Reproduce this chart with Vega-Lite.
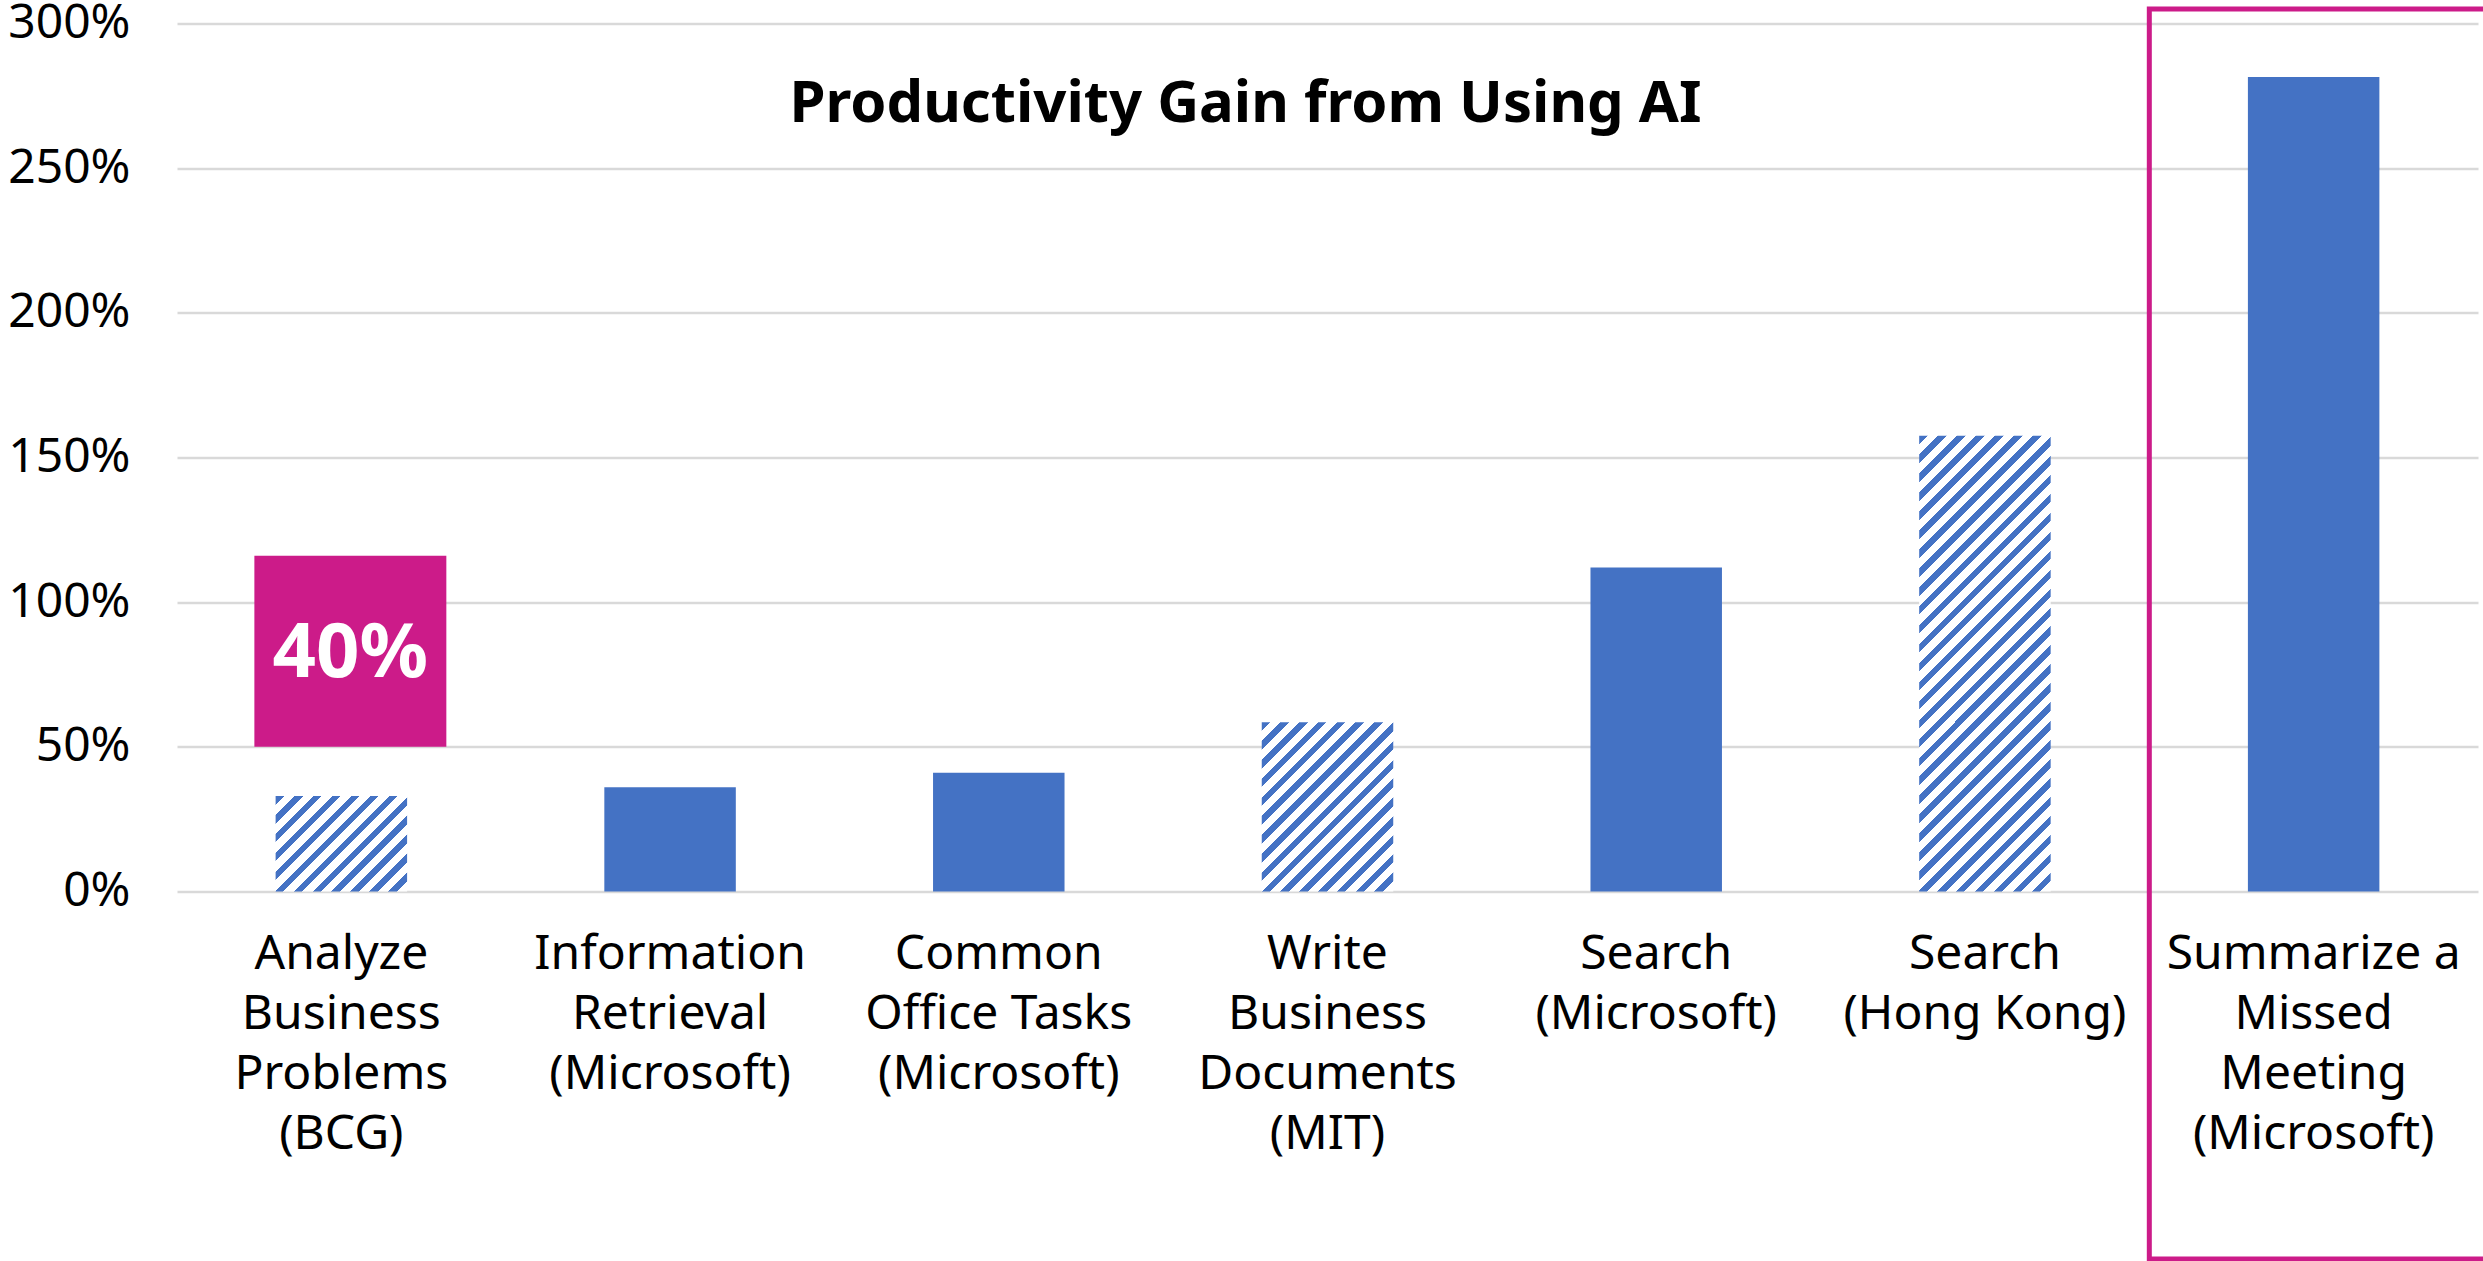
{
  "$schema": "https://vega.github.io/schema/vega-lite/v6.json",
  "width": 2301,
  "height": 868,
  "autosize": {"type": "none"},
  "padding": {"left": 177, "top": 23.5, "right": 5, "bottom": 369.5},
  "background": "white",
  "config": {"view": {"stroke": null}, "font": "Noto Sans"},
  "title": {
    "text": "Productivity Gain from Using AI",
    "fontSize": 58, "fontWeight": "bold", "font": "Noto Sans", "color": "#000000",
    "anchor": "middle", "frame": "group", "orient": "top", "offset": 0,
    "baseline": "alphabetic", "dx": -82, "dy": 180
  },
  "datasets": {
    "gains": [
      {"task": "Analyze|Business|Problems|(BCG)", "gain": 33, "style": "hatched"},
      {"task": "Information|Retrieval|(Microsoft)", "gain": 36, "style": "solid"},
      {"task": "Common|Office Tasks|(Microsoft)", "gain": 41, "style": "solid"},
      {"task": "Write|Business|Documents|(MIT)", "gain": 58.5, "style": "hatched"},
      {"task": "Search|(Microsoft)", "gain": 112, "style": "solid"},
      {"task": "Search|(Hong Kong)", "gain": 157.5, "style": "hatched"},
      {"task": "Summarize a|Missed|Meeting|(Microsoft)", "gain": 281.5, "style": "solid"}
    ],
    "callout": [
      {"task": "Analyze|Business|Problems|(BCG)", "gain": 50, "gainTop": 116, "mid": 82, "label": "40%"}
    ],
    "highlight": [
      {"task": "Summarize a|Missed|Meeting|(Microsoft)", "gain": 305, "gainEnd": -127}
    ]
  },
  "encoding": {
    "x": {
      "field": "task", "type": "nominal",
      "sort": ["Analyze|Business|Problems|(BCG)", "Information|Retrieval|(Microsoft)", "Common|Office Tasks|(Microsoft)", "Write|Business|Documents|(MIT)", "Search|(Microsoft)", "Search|(Hong Kong)", "Summarize a|Missed|Meeting|(Microsoft)"],
      "scale": {"paddingInner": 0.6, "paddingOuter": 0.3},
      "axis": {
        "title": null, "labelAngle": 0, "labelExpr": "split(datum.value, '|')",
        "labelFontSize": 48, "labelLineHeight": 60, "labelColor": "#000000", "labelFont": "Noto Sans",
        "labelPadding": 39, "labelBaseline": "top", "labelLimit": 0, "labelOverlap": false, "labelBound": false,
        "ticks": false, "domain": false
      }
    }
  },
  "layer": [
    {
      "data": {"name": "gains"},
      "transform": [{"filter": "datum.style == 'solid'"}],
      "mark": {"type": "bar", "color": "#4472C4"},
      "encoding": {
        "y": {
          "field": "gain", "type": "quantitative",
          "scale": {"domain": [0, 300], "nice": false},
          "axis": {
            "title": null, "values": [0, 50, 100, 150, 200, 250, 300], "labelExpr": "datum.value + '%'",
            "grid": true, "gridColor": "#d9d9d9", "gridWidth": 2.5, "domain": false, "ticks": false,
            "labelFontSize": 48, "labelPadding": 47, "labelColor": "#000000", "labelFont": "Noto Sans"
          }
        }
      }
    },
    {
      "data": {"name": "gains"},
      "transform": [{"filter": "datum.task == 'Analyze|Business|Problems|(BCG)'"}],
      "mark": {
        "type": "bar",
        "fill": {
          "gradient": "linear", "x1": 0, "y1": 0, "x2": 1.13021, "y2": 0.82069,
          "stops": [
            {"offset": 0, "color": "#4472C4"}, {"offset": 0.0375, "color": "#4472C4"}, {"offset": 0.0375, "color": "#ffffff"}, {"offset": 0.0833, "color": "#ffffff"},
            {"offset": 0.0833, "color": "#4472C4"}, {"offset": 0.1208, "color": "#4472C4"}, {"offset": 0.1208, "color": "#ffffff"}, {"offset": 0.1667, "color": "#ffffff"},
            {"offset": 0.1667, "color": "#4472C4"}, {"offset": 0.2042, "color": "#4472C4"}, {"offset": 0.2042, "color": "#ffffff"}, {"offset": 0.25, "color": "#ffffff"},
            {"offset": 0.25, "color": "#4472C4"}, {"offset": 0.2875, "color": "#4472C4"}, {"offset": 0.2875, "color": "#ffffff"}, {"offset": 0.3333, "color": "#ffffff"},
            {"offset": 0.3333, "color": "#4472C4"}, {"offset": 0.3708, "color": "#4472C4"}, {"offset": 0.3708, "color": "#ffffff"}, {"offset": 0.4167, "color": "#ffffff"},
            {"offset": 0.4167, "color": "#4472C4"}, {"offset": 0.4542, "color": "#4472C4"}, {"offset": 0.4542, "color": "#ffffff"}, {"offset": 0.5, "color": "#ffffff"},
            {"offset": 0.5, "color": "#4472C4"}, {"offset": 0.5375, "color": "#4472C4"}, {"offset": 0.5375, "color": "#ffffff"}, {"offset": 0.5833, "color": "#ffffff"},
            {"offset": 0.5833, "color": "#4472C4"}, {"offset": 0.6208, "color": "#4472C4"}, {"offset": 0.6208, "color": "#ffffff"}, {"offset": 0.6667, "color": "#ffffff"},
            {"offset": 0.6667, "color": "#4472C4"}, {"offset": 0.7042, "color": "#4472C4"}, {"offset": 0.7042, "color": "#ffffff"}, {"offset": 0.75, "color": "#ffffff"},
            {"offset": 0.75, "color": "#4472C4"}, {"offset": 0.7875, "color": "#4472C4"}, {"offset": 0.7875, "color": "#ffffff"}, {"offset": 0.8333, "color": "#ffffff"},
            {"offset": 0.8333, "color": "#4472C4"}, {"offset": 0.8708, "color": "#4472C4"}, {"offset": 0.8708, "color": "#ffffff"}, {"offset": 0.9167, "color": "#ffffff"},
            {"offset": 0.9167, "color": "#4472C4"}, {"offset": 0.9542, "color": "#4472C4"}, {"offset": 0.9542, "color": "#ffffff"}, {"offset": 1, "color": "#ffffff"}
          ]
        }
      },
      "encoding": {
        "y": {"field": "gain", "type": "quantitative", "scale": {"domain": [0, 300], "nice": false}, "axis": {"title": null}}
      }
    },
    {
      "data": {"name": "gains"},
      "transform": [{"filter": "datum.task == 'Write|Business|Documents|(MIT)'"}],
      "mark": {
        "type": "bar",
        "fill": {
          "gradient": "linear", "x1": 0, "y1": 0, "x2": 0.86083, "y2": 1.10812,
          "stops": [
            {"offset": 0, "color": "#4472C4"}, {"offset": 0.0281, "color": "#4472C4"}, {"offset": 0.0281, "color": "#ffffff"}, {"offset": 0.0625, "color": "#ffffff"},
            {"offset": 0.0625, "color": "#4472C4"}, {"offset": 0.0906, "color": "#4472C4"}, {"offset": 0.0906, "color": "#ffffff"}, {"offset": 0.125, "color": "#ffffff"},
            {"offset": 0.125, "color": "#4472C4"}, {"offset": 0.1531, "color": "#4472C4"}, {"offset": 0.1531, "color": "#ffffff"}, {"offset": 0.1875, "color": "#ffffff"},
            {"offset": 0.1875, "color": "#4472C4"}, {"offset": 0.2156, "color": "#4472C4"}, {"offset": 0.2156, "color": "#ffffff"}, {"offset": 0.25, "color": "#ffffff"},
            {"offset": 0.25, "color": "#4472C4"}, {"offset": 0.2781, "color": "#4472C4"}, {"offset": 0.2781, "color": "#ffffff"}, {"offset": 0.3125, "color": "#ffffff"},
            {"offset": 0.3125, "color": "#4472C4"}, {"offset": 0.3406, "color": "#4472C4"}, {"offset": 0.3406, "color": "#ffffff"}, {"offset": 0.375, "color": "#ffffff"},
            {"offset": 0.375, "color": "#4472C4"}, {"offset": 0.4031, "color": "#4472C4"}, {"offset": 0.4031, "color": "#ffffff"}, {"offset": 0.4375, "color": "#ffffff"},
            {"offset": 0.4375, "color": "#4472C4"}, {"offset": 0.4656, "color": "#4472C4"}, {"offset": 0.4656, "color": "#ffffff"}, {"offset": 0.5, "color": "#ffffff"},
            {"offset": 0.5, "color": "#4472C4"}, {"offset": 0.5281, "color": "#4472C4"}, {"offset": 0.5281, "color": "#ffffff"}, {"offset": 0.5625, "color": "#ffffff"},
            {"offset": 0.5625, "color": "#4472C4"}, {"offset": 0.5906, "color": "#4472C4"}, {"offset": 0.5906, "color": "#ffffff"}, {"offset": 0.625, "color": "#ffffff"},
            {"offset": 0.625, "color": "#4472C4"}, {"offset": 0.6531, "color": "#4472C4"}, {"offset": 0.6531, "color": "#ffffff"}, {"offset": 0.6875, "color": "#ffffff"},
            {"offset": 0.6875, "color": "#4472C4"}, {"offset": 0.7156, "color": "#4472C4"}, {"offset": 0.7156, "color": "#ffffff"}, {"offset": 0.75, "color": "#ffffff"},
            {"offset": 0.75, "color": "#4472C4"}, {"offset": 0.7781, "color": "#4472C4"}, {"offset": 0.7781, "color": "#ffffff"}, {"offset": 0.8125, "color": "#ffffff"},
            {"offset": 0.8125, "color": "#4472C4"}, {"offset": 0.8406, "color": "#4472C4"}, {"offset": 0.8406, "color": "#ffffff"}, {"offset": 0.875, "color": "#ffffff"},
            {"offset": 0.875, "color": "#4472C4"}, {"offset": 0.9031, "color": "#4472C4"}, {"offset": 0.9031, "color": "#ffffff"}, {"offset": 0.9375, "color": "#ffffff"},
            {"offset": 0.9375, "color": "#4472C4"}, {"offset": 0.9656, "color": "#4472C4"}, {"offset": 0.9656, "color": "#ffffff"}, {"offset": 1, "color": "#ffffff"}
          ]
        }
      },
      "encoding": {
        "y": {"field": "gain", "type": "quantitative", "scale": {"domain": [0, 300], "nice": false}, "axis": {"title": null}}
      }
    },
    {
      "data": {"name": "gains"},
      "transform": [{"filter": "datum.task == 'Search|(Hong Kong)'"}],
      "mark": {
        "type": "bar",
        "fill": {
          "gradient": "linear", "x1": 0, "y1": 0, "x2": 0.34323, "y2": 1.18951,
          "stops": [
            {"offset": 0, "color": "#4472C4"}, {"offset": 0.0145, "color": "#4472C4"}, {"offset": 0.0145, "color": "#ffffff"}, {"offset": 0.0323, "color": "#ffffff"},
            {"offset": 0.0323, "color": "#4472C4"}, {"offset": 0.0468, "color": "#4472C4"}, {"offset": 0.0468, "color": "#ffffff"}, {"offset": 0.0645, "color": "#ffffff"},
            {"offset": 0.0645, "color": "#4472C4"}, {"offset": 0.079, "color": "#4472C4"}, {"offset": 0.079, "color": "#ffffff"}, {"offset": 0.0968, "color": "#ffffff"},
            {"offset": 0.0968, "color": "#4472C4"}, {"offset": 0.1113, "color": "#4472C4"}, {"offset": 0.1113, "color": "#ffffff"}, {"offset": 0.129, "color": "#ffffff"},
            {"offset": 0.129, "color": "#4472C4"}, {"offset": 0.1435, "color": "#4472C4"}, {"offset": 0.1435, "color": "#ffffff"}, {"offset": 0.1613, "color": "#ffffff"},
            {"offset": 0.1613, "color": "#4472C4"}, {"offset": 0.1758, "color": "#4472C4"}, {"offset": 0.1758, "color": "#ffffff"}, {"offset": 0.1935, "color": "#ffffff"},
            {"offset": 0.1935, "color": "#4472C4"}, {"offset": 0.2081, "color": "#4472C4"}, {"offset": 0.2081, "color": "#ffffff"}, {"offset": 0.2258, "color": "#ffffff"},
            {"offset": 0.2258, "color": "#4472C4"}, {"offset": 0.2403, "color": "#4472C4"}, {"offset": 0.2403, "color": "#ffffff"}, {"offset": 0.2581, "color": "#ffffff"},
            {"offset": 0.2581, "color": "#4472C4"}, {"offset": 0.2726, "color": "#4472C4"}, {"offset": 0.2726, "color": "#ffffff"}, {"offset": 0.2903, "color": "#ffffff"},
            {"offset": 0.2903, "color": "#4472C4"}, {"offset": 0.3048, "color": "#4472C4"}, {"offset": 0.3048, "color": "#ffffff"}, {"offset": 0.3226, "color": "#ffffff"},
            {"offset": 0.3226, "color": "#4472C4"}, {"offset": 0.3371, "color": "#4472C4"}, {"offset": 0.3371, "color": "#ffffff"}, {"offset": 0.3548, "color": "#ffffff"},
            {"offset": 0.3548, "color": "#4472C4"}, {"offset": 0.3694, "color": "#4472C4"}, {"offset": 0.3694, "color": "#ffffff"}, {"offset": 0.3871, "color": "#ffffff"},
            {"offset": 0.3871, "color": "#4472C4"}, {"offset": 0.4016, "color": "#4472C4"}, {"offset": 0.4016, "color": "#ffffff"}, {"offset": 0.4194, "color": "#ffffff"},
            {"offset": 0.4194, "color": "#4472C4"}, {"offset": 0.4339, "color": "#4472C4"}, {"offset": 0.4339, "color": "#ffffff"}, {"offset": 0.4516, "color": "#ffffff"},
            {"offset": 0.4516, "color": "#4472C4"}, {"offset": 0.4661, "color": "#4472C4"}, {"offset": 0.4661, "color": "#ffffff"}, {"offset": 0.4839, "color": "#ffffff"},
            {"offset": 0.4839, "color": "#4472C4"}, {"offset": 0.4984, "color": "#4472C4"}, {"offset": 0.4984, "color": "#ffffff"}, {"offset": 0.5161, "color": "#ffffff"},
            {"offset": 0.5161, "color": "#4472C4"}, {"offset": 0.5306, "color": "#4472C4"}, {"offset": 0.5306, "color": "#ffffff"}, {"offset": 0.5484, "color": "#ffffff"},
            {"offset": 0.5484, "color": "#4472C4"}, {"offset": 0.5629, "color": "#4472C4"}, {"offset": 0.5629, "color": "#ffffff"}, {"offset": 0.5806, "color": "#ffffff"},
            {"offset": 0.5806, "color": "#4472C4"}, {"offset": 0.5952, "color": "#4472C4"}, {"offset": 0.5952, "color": "#ffffff"}, {"offset": 0.6129, "color": "#ffffff"},
            {"offset": 0.6129, "color": "#4472C4"}, {"offset": 0.6274, "color": "#4472C4"}, {"offset": 0.6274, "color": "#ffffff"}, {"offset": 0.6452, "color": "#ffffff"},
            {"offset": 0.6452, "color": "#4472C4"}, {"offset": 0.6597, "color": "#4472C4"}, {"offset": 0.6597, "color": "#ffffff"}, {"offset": 0.6774, "color": "#ffffff"},
            {"offset": 0.6774, "color": "#4472C4"}, {"offset": 0.6919, "color": "#4472C4"}, {"offset": 0.6919, "color": "#ffffff"}, {"offset": 0.7097, "color": "#ffffff"},
            {"offset": 0.7097, "color": "#4472C4"}, {"offset": 0.7242, "color": "#4472C4"}, {"offset": 0.7242, "color": "#ffffff"}, {"offset": 0.7419, "color": "#ffffff"},
            {"offset": 0.7419, "color": "#4472C4"}, {"offset": 0.7565, "color": "#4472C4"}, {"offset": 0.7565, "color": "#ffffff"}, {"offset": 0.7742, "color": "#ffffff"},
            {"offset": 0.7742, "color": "#4472C4"}, {"offset": 0.7887, "color": "#4472C4"}, {"offset": 0.7887, "color": "#ffffff"}, {"offset": 0.8065, "color": "#ffffff"},
            {"offset": 0.8065, "color": "#4472C4"}, {"offset": 0.821, "color": "#4472C4"}, {"offset": 0.821, "color": "#ffffff"}, {"offset": 0.8387, "color": "#ffffff"},
            {"offset": 0.8387, "color": "#4472C4"}, {"offset": 0.8532, "color": "#4472C4"}, {"offset": 0.8532, "color": "#ffffff"}, {"offset": 0.871, "color": "#ffffff"},
            {"offset": 0.871, "color": "#4472C4"}, {"offset": 0.8855, "color": "#4472C4"}, {"offset": 0.8855, "color": "#ffffff"}, {"offset": 0.9032, "color": "#ffffff"},
            {"offset": 0.9032, "color": "#4472C4"}, {"offset": 0.9177, "color": "#4472C4"}, {"offset": 0.9177, "color": "#ffffff"}, {"offset": 0.9355, "color": "#ffffff"},
            {"offset": 0.9355, "color": "#4472C4"}, {"offset": 0.95, "color": "#4472C4"}, {"offset": 0.95, "color": "#ffffff"}, {"offset": 0.9677, "color": "#ffffff"},
            {"offset": 0.9677, "color": "#4472C4"}, {"offset": 0.9823, "color": "#4472C4"}, {"offset": 0.9823, "color": "#ffffff"}, {"offset": 1, "color": "#ffffff"}
          ]
        }
      },
      "encoding": {
        "y": {"field": "gain", "type": "quantitative", "scale": {"domain": [0, 300], "nice": false}, "axis": {"title": null}}
      }
    },
    {
      "data": {"name": "callout"},
      "mark": {"type": "bar", "color": "#CC1B89", "width": {"band": 1.46}, "xOffset": 9},
      "encoding": {
        "y": {"field": "gain", "type": "quantitative", "scale": {"domain": [0, 300], "nice": false}, "axis": {"title": null}},
        "y2": {"field": "gainTop"}
      }
    },
    {
      "data": {"name": "callout"},
      "mark": {"type": "text", "color": "#ffffff", "fontSize": 76, "fontWeight": "bold", "font": "Noto Sans", "align": "center", "baseline": "middle", "xOffset": 9},
      "encoding": {
        "y": {"field": "mid", "type": "quantitative", "scale": {"domain": [0, 300], "nice": false}, "axis": {"title": null}},
        "text": {"field": "label", "type": "nominal"}
      }
    },
    {
      "data": {"name": "highlight"},
      "mark": {"type": "bar", "fillOpacity": 0, "stroke": "#CC1B89", "strokeWidth": 5, "width": {"band": 2.6}, "xOffset": 6.6},
      "encoding": {
        "y": {"field": "gain", "type": "quantitative", "scale": {"domain": [0, 300], "nice": false}, "axis": {"title": null}},
        "y2": {"field": "gainEnd"}
      }
    }
  ]
}
